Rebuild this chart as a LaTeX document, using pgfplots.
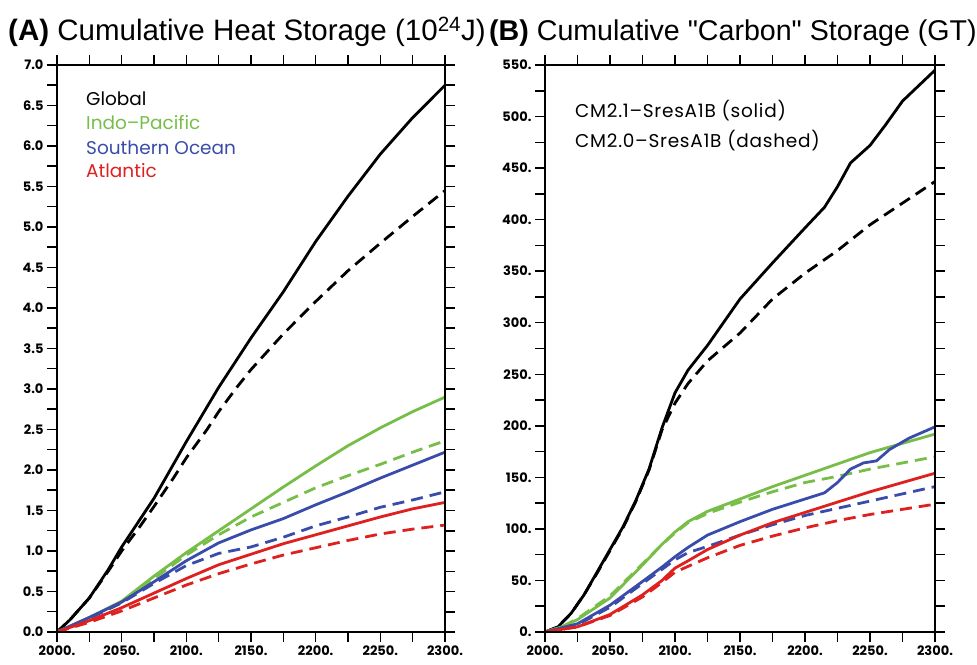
\documentclass[border=0pt]{standalone}
\usepackage{pgfplots}
\pgfplotsset{compat=1.18}
\usepackage{fontspec}
\setmainfont{Liberation Sans}[Ligatures=TeXOff]
\newfontfamily\geo{Poppins}
\definecolor{cgreen}{RGB}{118,190,72}
\definecolor{cblue}{RGB}{58,76,170}
\definecolor{cred}{RGB}{222,32,30}
\pgfplotsset{
  panel/.style={
    scale only axis, width=#1, height=567pt,
    xmin=2000, xmax=2300,
    xtick={2000,2025,2050,2075,2100,2125,2150,2175,2200,2225,2250,2275,2300},
    xticklabels={2000.,,2050.,,2100.,,2150.,,2200.,,2250.,,2300.},
    tick align=outside,
    major tick length=10pt,
    major tick style={line width=1.5pt, black},
    axis line style={line width=1.5pt},
    tick label style={font=\geo\bfseries\fontsize{13}{13}\selectfont},
    /pgf/number format/assume math mode=true,
  },
  sol/.style={line width=2.8pt, line join=round},
  das/.style={line width=2.8pt, dash pattern=on 12pt off 7pt},
  yA/.style={ymin=0, ymax=7,
    ytick={0,0.25,0.5,0.75,1,1.25,1.5,1.75,2,2.25,2.5,2.75,3,3.25,3.5,3.75,4,4.25,4.5,4.75,5,5.25,5.5,5.75,6,6.25,6.5,6.75,7}},
  yB/.style={ymin=0, ymax=550,
    ytick={0,25,50,75,100,125,150,175,200,225,250,275,300,325,350,375,400,425,450,475,500,525,550}},
}
\begin{document}
\begin{tikzpicture}
\useasboundingbox (0pt,0pt) rectangle (977pt,664pt);
% ---------- Panel A
\begin{axis}[panel=388pt, at={(57pt,32pt)}, anchor=south west, yA,
  xtick pos=bottom, ytick pos=left,
  yticklabels={0.0,,0.5,,1.0,,1.5,,2.0,,2.5,,3.0,,3.5,,4.0,,4.5,,5.0,,5.5,,6.0,,6.5,,7.0},
]
\addplot[sol, black] coordinates {(2000,0)(2010,0.15)(2025,0.42)(2040,0.78)(2050,1.05)(2075,1.65)(2100,2.35)(2125,3.02)(2150,3.63)(2175,4.2)(2200,4.82)(2225,5.38)(2250,5.9)(2275,6.35)(2300,6.75)};
\addplot[das, black] coordinates {(2000,0)(2010,0.15)(2025,0.42)(2040,0.76)(2050,1.0)(2064,1.3)(2075,1.55)(2090,1.9)(2100,2.15)(2116,2.5)(2125,2.72)(2139,3.02)(2150,3.24)(2175,3.68)(2200,4.08)(2225,4.46)(2250,4.8)(2275,5.13)(2300,5.45)};
\addplot[sol, cgreen] coordinates {(2000,0)(2025,0.18)(2050,0.38)(2075,0.69)(2100,0.98)(2125,1.25)(2150,1.52)(2175,1.79)(2200,2.05)(2225,2.3)(2250,2.52)(2275,2.72)(2300,2.9)};
\addplot[das, cgreen] coordinates {(2000,0)(2025,0.17)(2050,0.36)(2075,0.66)(2100,0.95)(2125,1.2)(2150,1.42)(2175,1.6)(2200,1.78)(2225,1.93)(2250,2.07)(2275,2.22)(2300,2.36)};
\addplot[sol, cblue] coordinates {(2000,0)(2025,0.18)(2050,0.37)(2075,0.62)(2100,0.88)(2125,1.1)(2150,1.26)(2175,1.40)(2200,1.57)(2225,1.73)(2250,1.9)(2275,2.06)(2300,2.22)};
\addplot[das, cblue] coordinates {(2000,0)(2025,0.17)(2050,0.36)(2075,0.6)(2100,0.82)(2125,0.97)(2150,1.05)(2175,1.17)(2200,1.31)(2225,1.42)(2250,1.54)(2275,1.63)(2300,1.73)};
\addplot[sol, cred] coordinates {(2000,0)(2025,0.14)(2050,0.30)(2075,0.48)(2100,0.66)(2125,0.83)(2150,0.96)(2175,1.09)(2200,1.2)(2225,1.31)(2250,1.42)(2275,1.52)(2300,1.60)};
\addplot[das, cred] coordinates {(2000,0)(2025,0.12)(2050,0.26)(2075,0.42)(2100,0.58)(2125,0.72)(2150,0.84)(2175,0.95)(2200,1.04)(2225,1.13)(2250,1.21)(2275,1.27)(2300,1.32)};
\end{axis}
\begin{axis}[panel=388pt, at={(57pt,32pt)}, anchor=south west, yA,
  xtick pos=top, ytick pos=right, xticklabels={}, yticklabels={}]
\end{axis}
% ---------- Panel B
\begin{axis}[panel=390pt, at={(545pt,32pt)}, anchor=south west, yB,
  xtick pos=bottom, ytick pos=left,
  yticklabels={0.,,50.,,100.,,150.,,200.,,250.,,300.,,350.,,400.,,450.,,500.,,550.},
]
\addplot[sol, black] coordinates {(2000,0)(2010,5)(2020,18)(2030,36)(2040,58)(2050,80)(2060,102)(2070,128)(2080,158)(2090,198)(2100,232)(2110,254)(2125,278)(2150,323)(2175,358)(2200,392)(2215,412)(2225,432)(2235,455)(2250,472)(2262,492)(2275,515)(2290,533)(2300,545)};
\addplot[das, black] coordinates {(2000,0)(2010,5)(2020,18)(2030,36)(2040,57)(2050,79)(2060,101)(2070,127)(2080,157)(2090,196)(2100,222)(2110,241)(2125,263)(2150,290)(2175,323)(2200,348)(2225,370)(2250,395)(2275,416)(2300,437)};
\addplot[sol, cgreen] coordinates {(2000,0)(2013,5)(2025,12)(2050,33)(2075,65)(2090,85)(2100,97)(2110,107)(2125,117)(2150,129)(2175,141)(2200,152)(2225,163)(2250,174)(2275,183)(2300,192)};
\addplot[das, cgreen] coordinates {(2000,0)(2013,5)(2025,13)(2050,35)(2075,66)(2090,85)(2100,96)(2110,106)(2125,115)(2150,126)(2175,136)(2200,145)(2225,151)(2250,158)(2275,164)(2300,170)};
\addplot[sol, cblue] coordinates {(2000,0)(2025,8)(2050,26)(2075,49)(2090,63)(2100,73)(2110,82)(2125,94)(2150,107)(2175,119)(2200,129)(2215,135)(2225,145)(2235,158)(2245,164)(2255,166)(2265,177)(2280,188)(2300,199)};
\addplot[das, cblue] coordinates {(2000,0)(2025,7)(2050,24)(2075,47)(2100,70)(2110,77)(2125,83)(2150,94)(2175,104)(2200,113)(2225,120)(2250,127)(2275,134)(2300,141)};
\addplot[sol, cred] coordinates {(2000,0)(2025,5)(2050,17)(2075,36)(2090,50)(2100,62)(2110,69)(2125,80)(2150,94)(2175,106)(2200,116)(2225,126)(2250,136)(2275,145)(2300,154)};
\addplot[das, cred] coordinates {(2000,0)(2025,5)(2050,16)(2075,34)(2090,48)(2100,58)(2125,72)(2150,84)(2175,93)(2200,101)(2225,108)(2250,114)(2275,119)(2300,124)};
\end{axis}
\begin{axis}[panel=390pt, at={(545pt,32pt)}, anchor=south west, yB,
  xtick pos=top, ytick pos=right, xticklabels={}, yticklabels={}]
\end{axis}
% ---------- texts
\node[anchor=base west, inner sep=0pt, font=\fontsize{29.5}{29.5}\selectfont] at (8pt,623pt) {\textbf{(A)} Cumulative Heat Storage (10\textsuperscript{24}J)};
\node[anchor=base west, inner sep=0pt, font=\fontsize{28.6}{28.6}\selectfont] at (489pt,623pt) {\textbf{(B)} Cumulative "Carbon" Storage (GT)};
\begin{scope}[every node/.style={anchor=base west, inner sep=0pt, font=\geo\fontsize{18.5}{18.5}\selectfont}]
\node[black] at (86pt,558pt) {Global};
\node[cgreen] at (86pt,534pt) {Indo–Pacific};
\node[cblue] at (86pt,509pt) {Southern Ocean};
\node[cred] at (86pt,486pt) {Atlantic};
\end{scope}
\begin{scope}[every node/.style={anchor=base west, inner sep=0pt, font=\geo\fontsize{18.5}{18.5}\selectfont\addfontfeature{LetterSpace=4}}]
\node[black] at (575pt,546pt) {CM2.1–SresA1B (solid)};
\node[black] at (575pt,516pt) {CM2.0–SresA1B (dashed)};
\end{scope}
\end{tikzpicture}
\end{document}
